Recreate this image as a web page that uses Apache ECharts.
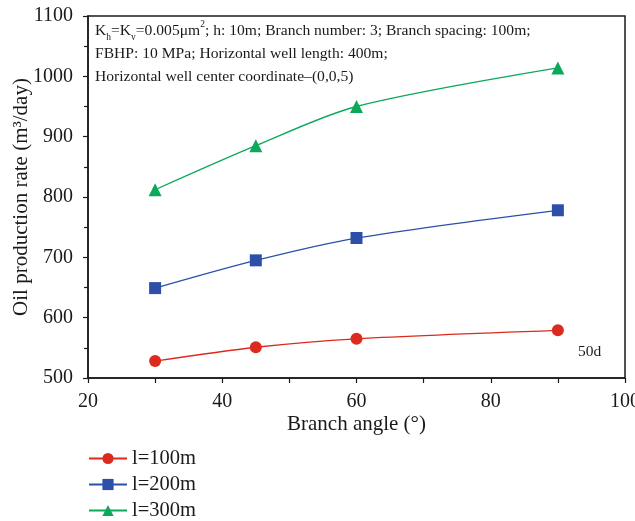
<!DOCTYPE html>
<html>
<head>
<meta charset="utf-8">
<script src="https://cdn.jsdelivr.net/npm/echarts@6/dist/echarts.min.js"></script>
<style>html,body{margin:0;padding:0;background:#fff}#c{width:635px;height:521px}</style>
</head>
<body>
<div id="c"></div>
<script>
const angles = [30, 45, 60, 90];
const l100 = [528, 551, 565, 579];
const l200 = [649, 695, 732, 778];
const l300 = [812, 885, 950, 1014];
const seriesNames = ['l=100m', 'l=200m', 'l=300m'];
const xTicks = [20, 40, 60, 80, 100];
const yTicks = [500, 600, 700, 800, 900, 1000, 1100];

const FONT = '"Liberation Serif", "Times New Roman", serif';
const chart = echarts.init(document.getElementById('c'), null, {renderer: 'canvas'});

function pairs(vals) { return angles.map((a, i) => [a, vals[i]]); }

const option = {
  animation: false,
  backgroundColor: '#fff',
  textStyle: {fontFamily: FONT},
  grid: {left: 88, top: 16, right: 10, bottom: 143, containLabel: false, outerBoundsMode: 'none',
         show: true, borderColor: '#1a1a1a', borderWidth: 1.5, backgroundColor: 'transparent'},
  xAxis: {
    type: 'value', min: xTicks[0], max: xTicks[xTicks.length - 1], interval: 20,
    name: 'Branch angle (°)', nameLocation: 'middle', nameGap: 36, nameMoveOverlap: false,
    nameTextStyle: {fontFamily: FONT, fontSize: 21, color: '#1a1a1a'},
    axisLine: {show: true, lineStyle: {color: '#1a1a1a', width: 1.5}},
    axisTick: {show: true, inside: false, length: 5, lineStyle: {color: '#1a1a1a', width: 1.2}},
    minorTick: {show: true, splitNumber: 2, length: 5, lineStyle: {color: '#1a1a1a', width: 1.2}},
    axisLabel: {fontFamily: FONT, fontSize: 20, color: '#1a1a1a', margin: 14, formatter: v => String(v)},
    splitLine: {show: false}
  },
  yAxis: {
    type: 'value', min: yTicks[0], max: yTicks[yTicks.length - 1], interval: 100,
    name: 'Oil production rate (m³/day)', nameLocation: 'middle', nameGap: 56, nameMoveOverlap: false,
    nameTextStyle: {fontFamily: FONT, fontSize: 21, color: '#1a1a1a'},
    axisLine: {show: true, lineStyle: {color: '#1a1a1a', width: 1.5}},
    axisTick: {show: true, inside: false, length: 5, lineStyle: {color: '#1a1a1a', width: 1.2}},
    minorTick: {show: true, splitNumber: 2, length: 4, lineStyle: {color: '#1a1a1a', width: 1.2}},
    axisLabel: {fontFamily: FONT, fontSize: 20, color: '#1a1a1a', margin: 15, formatter: v => String(v)},
    splitLine: {show: false}
  },
  legend: {
    orient: 'vertical', left: 83, top: 443, height: 120, itemGap: 5, itemWidth: 38, itemHeight: 14,
    textStyle: {fontFamily: FONT, fontSize: 20.5, color: '#1a1a1a'},
    data: seriesNames
  },
  series: [
    {name: seriesNames[0], type: 'line', data: pairs(l100), smooth: 0.3, symbol: 'circle', symbolSize: 12,
     color: '#dd2a1e', lineStyle: {width: 1.3, color: '#dd2a1e'}, itemStyle: {color: '#dd2a1e'}},
    {name: seriesNames[1], type: 'line', data: pairs(l200), smooth: 0.3, symbol: 'rect', symbolSize: 12,
     color: '#2c50a8', lineStyle: {width: 1.3, color: '#2c50a8'}, itemStyle: {color: '#2c50a8'}},
    {name: seriesNames[2], type: 'line', data: pairs(l300), smooth: 0.3, symbol: 'triangle', symbolSize: 13,
     color: '#0ca95a', lineStyle: {width: 1.3, color: '#0ca95a'}, itemStyle: {color: '#0ca95a'}}
  ],
  graphic: [
    {
      type: 'text', left: 95, top: 17,
      style: {
        text: 'K{sub|h}=K{sub|v}=0.005μm{sup|2}; h: 10m; Branch number: 3; Branch spacing: 100m;\nFBHP: 10 MPa; Horizontal well length: 400m;\nHorizontal well center coordinate–(0,0,5)',
        font: '15.6px ' + FONT, fill: '#1a1a1a', lineHeight: 23,
        rich: {
          sub: {fontSize: 9.5, fontFamily: FONT, fill: '#1a1a1a', verticalAlign: 'bottom', lineHeight: 23, padding: [15, 0, 0, 0]},
          sup: {fontSize: 9.5, fontFamily: FONT, fill: '#1a1a1a', verticalAlign: 'top', lineHeight: 23, padding: [0, 0, 10, 0]}
        }
      }
    },
    {
      type: 'text', left: 578, top: 344,
      style: {text: '50d', font: '15.5px ' + FONT, fill: '#1a1a1a'}
    }
  ]
};
chart.setOption(option);
</script>
</body>
</html>
